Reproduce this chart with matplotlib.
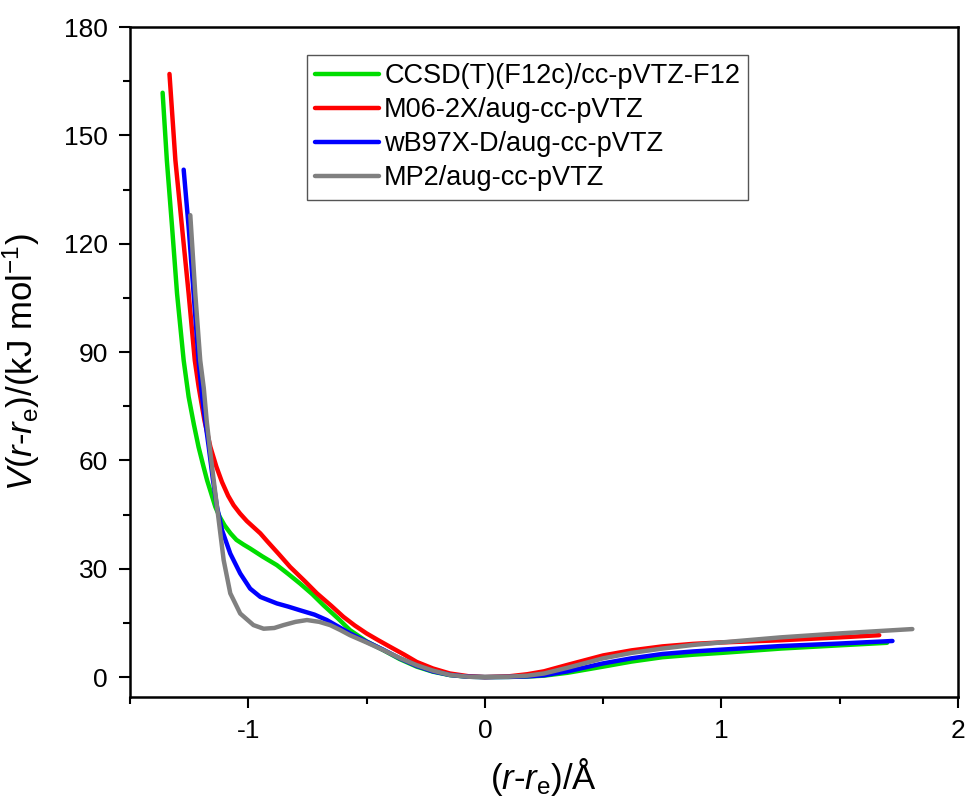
import matplotlib
matplotlib.use('Agg')
import matplotlib.pyplot as plt

plt.rcParams['font.family'] = ['Liberation Sans', 'DejaVu Sans']
plt.rcParams['mathtext.fontset'] = 'custom'
plt.rcParams['mathtext.rm'] = 'Liberation Sans'
plt.rcParams['mathtext.it'] = 'Liberation Sans:italic'
plt.rcParams['axes.unicode_minus'] = False

# CCSD(T)(F12c)/cc-pVTZ-F12
ccsd_x = [-1.362, -1.344, -1.322, -1.301, -1.273, -1.252, -1.23, -1.21, -1.19, -1.174, -1.155, -1.139,
          -1.12, -1.1, -1.075, -1.05, -1.02, -0.992, -0.94, -0.879, -0.83, -0.781, -0.73, -0.682,
          -0.62, -0.57, -0.5, -0.43, -0.36, -0.288, -0.22, -0.148, -0.07, 0.0, 0.1, 0.18, 0.25,
          0.35, 0.5, 0.62, 0.75, 0.88, 1.0, 1.25, 1.5, 1.7]
ccsd_y = [161.8, 143.0, 124.6, 106.2, 87.7, 77.6, 70.0, 63.7, 58.5, 54.5, 50.5, 47.1,
          44.3, 42.0, 39.8, 38.0, 36.7, 35.6, 33.4, 31.0, 28.5, 25.9, 23.0, 19.9,
          16.2, 13.0, 9.9, 7.5, 5.0, 2.9, 1.5, 0.55, 0.1, 0.0, 0.05, 0.15, 0.4,
          1.2, 2.9, 4.3, 5.5, 6.2, 6.7, 7.9, 8.8, 9.5]

# M06-2X/aug-cc-pVTZ
m06_x = [-1.333, -1.308, -1.28, -1.252, -1.226, -1.21, -1.185, -1.16, -1.135, -1.111, -1.085,
         -1.062, -1.035, -1.006, -0.949, -0.921, -0.87, -0.823, -0.76, -0.71, -0.65, -0.598,
         -0.55, -0.5, -0.45, -0.401, -0.34, -0.288, -0.22, -0.148, -0.07, 0.0, 0.1, 0.18, 0.25,
         0.35, 0.5, 0.62, 0.75, 0.88, 1.0, 1.25, 1.5, 1.667]
m06_y = [167.0, 143.1, 124.6, 106.2, 87.7, 80.5, 71.0, 63.7, 58.3, 54.0, 50.2,
         47.6, 45.3, 43.2, 39.8, 37.7, 34.0, 30.5, 26.5, 23.2, 19.8, 16.7,
         14.3, 12.1, 10.2, 8.4, 6.2, 4.2, 2.4, 1.0, 0.25, 0.0, 0.2, 0.8, 1.6,
         3.4, 6.0, 7.4, 8.5, 9.2, 9.6, 10.2, 11.0, 11.6]

# wB97X-D/aug-cc-pVTZ
wb97_x = [-1.273, -1.252, -1.231, -1.21, -1.195, -1.18, -1.167, -1.15, -1.132, -1.111, -1.076,
          -1.034, -0.992, -0.949, -0.879, -0.83, -0.781, -0.72, -0.668, -0.62, -0.57, -0.5, -0.43,
          -0.36, -0.288, -0.22, -0.148, -0.07, 0.0, 0.1, 0.18, 0.25, 0.35, 0.5, 0.62, 0.75,
          0.88, 1.0, 1.25, 1.5, 1.723]
wb97_y = [140.5, 124.6, 106.2, 87.7, 77.6, 70.0, 63.7, 55.0, 47.1, 40.7, 34.2,
          28.7, 24.5, 22.2, 20.4, 19.5, 18.5, 17.3, 15.8, 14.0, 12.1, 9.8, 7.6,
          5.2, 3.1, 1.6, 0.6, 0.1, 0.0, 0.05, 0.2, 0.5, 1.6, 3.8, 5.2, 6.4,
          7.1, 7.6, 8.6, 9.3, 10.0]

# MP2/aug-cc-pVTZ
mp2_x = [-1.245, -1.224, -1.203, -1.188, -1.175, -1.16, -1.146, -1.125, -1.104, -1.076, -1.034,
         -0.978, -0.935, -0.89, -0.851, -0.8, -0.752, -0.7, -0.654, -0.61, -0.57, -0.5, -0.43,
         -0.36, -0.288, -0.22, -0.148, -0.07, 0.0, 0.1, 0.18, 0.25, 0.35, 0.5, 0.62, 0.75,
         0.88, 1.0, 1.25, 1.5, 1.807]
mp2_y = [127.9, 106.2, 87.7, 80.0, 70.5, 62.0, 54.5, 43.5, 32.4, 23.2, 17.6,
         14.4, 13.4, 13.6, 14.4, 15.3, 15.8, 15.3, 14.4, 13.0, 11.6, 9.6, 7.5,
         5.3, 3.3, 1.8, 0.6, 0.1, 0.0, 0.1, 0.4, 1.0, 2.6, 5.2, 6.7, 7.9,
         8.9, 9.6, 11.0, 12.1, 13.3]

labels = ['CCSD(T)(F12c)/cc-pVTZ-F12', 'M06-2X/aug-cc-pVTZ', 'wB97X-D/aug-cc-pVTZ', 'MP2/aug-cc-pVTZ']
colors = ['#00dd00', '#ff0000', '#0000ff', '#808080']

fig = plt.figure(figsize=(9.67, 7.99), dpi=100)
ax = fig.add_axes([0.1344, 0.1277, 0.8563, 0.8385])

series = [(ccsd_x, ccsd_y), (m06_x, m06_y), (wb97_x, wb97_y), (mp2_x, mp2_y)]
for (xs, ys), lab, c in zip(series, labels, colors):
    ax.plot(xs, ys, color=c, lw=3.2, label=lab, solid_capstyle='round', solid_joinstyle='round')

ax.set_xlim(-1.5, 2)
ax.set_ylim(-5.5, 180)
ax.set_xticks([-1, 0, 1, 2])
ax.set_xticks([-1.5, -0.5, 0.5, 1.5], minor=True)
ax.set_yticks([0, 30, 60, 90, 120, 150, 180])
ax.set_yticks([15, 45, 75, 105, 135, 165], minor=True)
ax.tick_params(which='major', direction='out', length=8, width=1.5, labelsize=19, pad=8)
ax.tick_params(which='minor', direction='out', length=5, width=1.5)
for s in ax.spines.values():
    s.set_linewidth(1.8)

ax.set_xlabel(r'($\mathit{r}$-$\mathit{r}_\mathrm{e}$)/Å', fontsize=25, labelpad=9)
ax.set_ylabel(r'$\mathit{V}$($\mathit{r}$-$\mathit{r}_\mathrm{e}$)/(kJ mol$^{-1}$)', fontsize=25)
ax.yaxis.set_label_coords(-0.106, 0.5)

leg = ax.legend(loc='upper left', bbox_to_anchor=(0.3175, 0.9312), bbox_transform=fig.transFigure,
                fontsize=19.5, frameon=True, fancybox=False, framealpha=1, edgecolor='#555555',
                handlelength=2.35, handletextpad=0.2, labelspacing=0.3, borderpad=0.3,
                borderaxespad=0)
leg.get_frame().set_linewidth(1.0)

fig.savefig('out.png', dpi=100)
